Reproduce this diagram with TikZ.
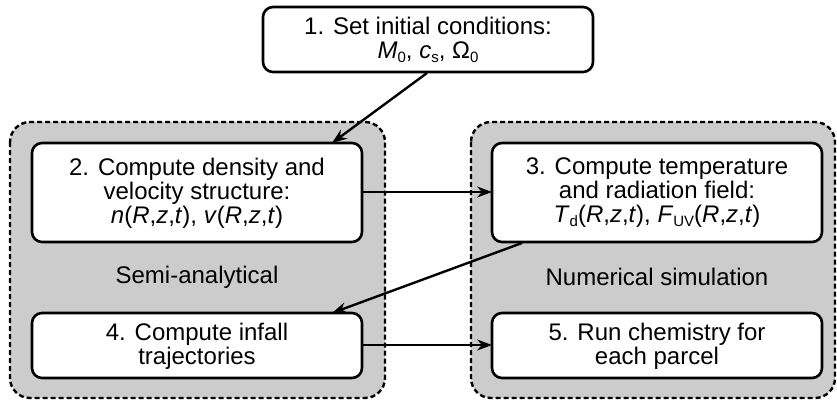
\documentclass[tikz,border=0pt]{standalone}
\usepackage{fontspec}
\setmainfont{Liberation Sans}
\usetikzlibrary{arrows.meta}
\newcommand{\sbs}[1]{\raisebox{-0.15em}{\fontsize{15}{15}\selectfont #1}}
\begin{document}
\begin{tikzpicture}[x=1pt,y=-1pt,
  stepbox/.style={draw=black,line width=2.6pt,fill=white,rounded corners=10pt},
  groupbox/.style={draw=black,line width=2.4pt,fill=black!20,rounded corners=20pt,dash pattern=on 5pt off 3pt},
  lbl/.style={align=center,font=\fontsize{24}{24}\selectfont,inner sep=0pt},
  conn/.style={line width=2.4pt,-{Stealth[length=15pt,width=11pt,inset=5pt]}}]
\useasboundingbox (0,0) rectangle (837,401);
% containers
\draw[groupbox] (10,122) rectangle (385,398);
\draw[groupbox] (471,122) rectangle (835,398);
% boxes
\draw[stepbox] (263,7) rectangle (593,72);
\draw[stepbox] (32,143) rectangle (362,242);
\draw[stepbox] (492,143) rectangle (822,242);
\draw[stepbox] (32,313) rectangle (362,378);
\draw[stepbox] (492,313) rectangle (822,378);
\node[lbl] (t1) at (428,40) {1. Set initial conditions:\\\textit{M}\sbs{0}, \textit{c}\sbs{s}, Ω\sbs{0}};
\node[lbl] (t2) at (197,193) {2. Compute density and\\velocity structure:\\\textit{n}(\textit{R},\textit{z},\textit{t}), \textit{v}(\textit{R},\textit{z},\textit{t})};
\node[lbl] (t3) at (657,193) {3. Compute temperature\\and radiation field:\\\textit{T}\sbs{d}(\textit{R},\textit{z},\textit{t}), \textit{F}\sbs{UV}(\textit{R},\textit{z},\textit{t})};
\node[lbl] (t4) at (197,346) {4. Compute infall\\trajectories};
\node[lbl] (t5) at (657,346) {5. Run chemistry for\\each parcel};
\node[lbl] (g1) at (197,277) {Semi-analytical};
\node[lbl] (g2) at (657,277) {Numerical simulation};
% connector anchors
\coordinate (a1s) at (427,73);
\coordinate (a1e) at (332,143);
\coordinate (a2s) at (362,192);
\coordinate (a2e) at (492,192);
\coordinate (a3s) at (522,243);
\coordinate (a3e) at (332,313);
\coordinate (a4s) at (362,345);
\coordinate (a4e) at (492,345);
\draw[conn] (a1s) -- (a1e);
\draw[conn] (a2s) -- (a2e);
\draw[conn] (a3s) -- (a3e);
\draw[conn] (a4s) -- (a4e);
\end{tikzpicture}
\end{document}
